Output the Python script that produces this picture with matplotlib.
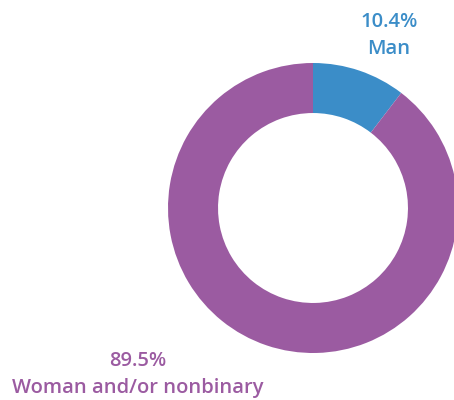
import matplotlib.pyplot as plt

# Gender split of respondents
labels = ['Man', 'Woman and/or nonbinary']
shares = [10.4, 89.5]
colors = ['#3b8dc8', '#9b5ba1']

W, H = 454, 400
fig = plt.figure(figsize=(W / 100, H / 100), dpi=100)

# Donut placed with its centre at (313, 208) px, outer radius 145 px
cx, cy, r = 313, 208, 145
ax = fig.add_axes([(cx - r) / W, (H - cy - r) / H, 2 * r / W, 2 * r / H])
ax.pie(shares, colors=colors, startangle=90, counterclock=False,
       wedgeprops=dict(width=0.345, linewidth=0), normalize=True)
ax.set_xlim(-1, 1)
ax.set_ylim(-1, 1)
ax.set_aspect('equal')
for p in ax.patches:
    p.set_clip_on(False)
ax.axis('off')

font = dict(family=['Open Sans', 'DejaVu Sans'], fontweight='semibold', fontsize=14.5,
            ha='center', va='center')

# Labels: value on top, category below
fig.text(389 / W, 1 - 22 / H, f'{shares[0]}%', color=colors[0], **font)
fig.text(389 / W, 1 - 49 / H, labels[0], color=colors[0], **font)
fig.text(138 / W, 1 - 361 / H, f'{shares[1]}%', color=colors[1], **font)
fig.text(138 / W, 1 - 388 / H, labels[1], color=colors[1], **font)

fig.savefig('out.png', dpi=100)
